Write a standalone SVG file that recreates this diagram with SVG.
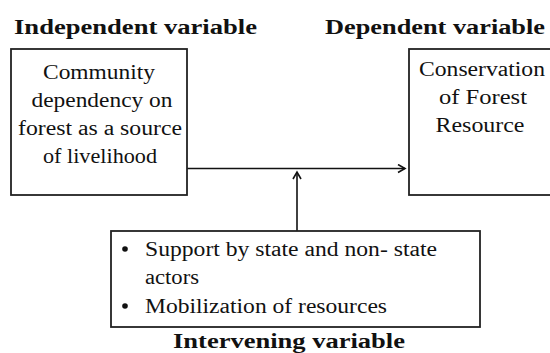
<svg xmlns="http://www.w3.org/2000/svg" width="550" height="353" viewBox="0 0 550 353">
<style>
.box{fill:#fff;stroke:#222;stroke-width:1.8}
.t{font-family:'Liberation Serif','DejaVu Serif','Times New Roman',serif;font-size:20px;fill:#111}
.h{font-family:'Liberation Serif','DejaVu Serif','Times New Roman',serif;font-size:20px;font-weight:bold;fill:#111}
.c{stroke:#111;stroke-width:1.6;fill:none}
</style>
<defs>
<marker id="arr" markerWidth="12" markerHeight="12" refX="9" refY="5" orient="auto" markerUnits="userSpaceOnUse">
<path d="M2,1 L9,5 L2,9" fill="none" stroke="#111" stroke-width="1.6"/>
</marker>
</defs>
<rect width="550" height="353" fill="#fff"/>
<text class="h" font-family="Liberation Serif, serif" x="14" y="34" textLength="243" lengthAdjust="spacingAndGlyphs">Independent variable</text>
<text class="h" font-family="Liberation Serif, serif" x="325" y="34" textLength="220" lengthAdjust="spacingAndGlyphs">Dependent variable</text>
<text class="h" font-family="Liberation Serif, serif" x="173" y="348" textLength="232" lengthAdjust="spacingAndGlyphs">Intervening variable</text>
<g id="connectors">
<line class="c" x1="187" y1="168.5" x2="405" y2="168.5" marker-end="url(#arr)"/>
<line class="c" x1="297" y1="231" x2="297" y2="172" marker-end="url(#arr)"/>
</g>
<g id="independent">
<rect class="box" x="11" y="49" width="176" height="146"/>
<text class="t" text-anchor="middle" x="99" y="79" textLength="112" lengthAdjust="spacingAndGlyphs">Community</text>
<text class="t" text-anchor="middle" x="102" y="107" textLength="141" lengthAdjust="spacingAndGlyphs">dependency on</text>
<text class="t" text-anchor="middle" x="100" y="135" textLength="164" lengthAdjust="spacingAndGlyphs">forest as a source</text>
<text class="t" text-anchor="middle" x="100" y="163" textLength="114" lengthAdjust="spacingAndGlyphs">of livelihood</text>
</g>
<g id="dependent">
<rect class="box" x="409" y="49" width="150" height="146"/>
<text class="t" text-anchor="middle" x="482" y="76" textLength="126" lengthAdjust="spacingAndGlyphs">Conservation</text>
<text class="t" text-anchor="middle" x="483" y="104" textLength="88" lengthAdjust="spacingAndGlyphs">of Forest</text>
<text class="t" text-anchor="middle" x="480" y="132" textLength="89" lengthAdjust="spacingAndGlyphs">Resource</text>
</g>
<g id="intervening">
<rect class="box" x="111" y="231" width="369" height="96"/>
<circle cx="125" cy="249" r="2.8" fill="#111"/>
<circle cx="125" cy="306" r="2.8" fill="#111"/>
<text class="t" x="145" y="256" textLength="292" lengthAdjust="spacingAndGlyphs">Support by state and non- state</text>
<text class="t" x="145" y="284" textLength="54" lengthAdjust="spacingAndGlyphs">actors</text>
<text class="t" x="145" y="313" textLength="242" lengthAdjust="spacingAndGlyphs">Mobilization of resources</text>
</g>
</svg>
